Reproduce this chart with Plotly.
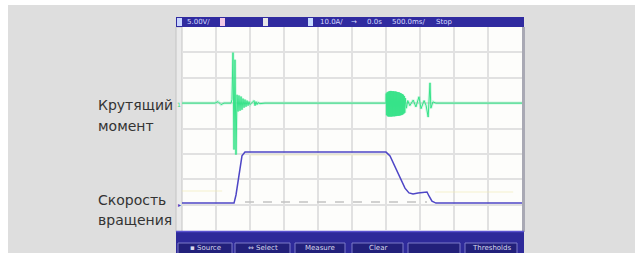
import plotly.graph_objects as go

W, H = 635, 253

# ---------------- data (time in s, value in screen divisions) ----------------
# torque (channel 1): pre-event, burst, after-burst
torque_pre_t = [-2.5, -2.015, -1.97, -1.926, -1.882, -1.779, -1.765, -1.75, -1.735, -1.721,
                -1.706, -1.691, -1.676, -1.662, -1.647, -1.632, -1.618, -1.603, -1.588, -1.574,
                -1.559, -1.544, -1.529, -1.515, -1.5, -1.471, -1.441, -1.426, -1.412, -1.397,
                -1.382, -1.353, -1.279]
torque_pre_v = [1.0, 1.0, 1.06, 0.94, 1.0, 1.0, 1.14, 2.99, -0.83, 2.71,
                -1.03, 1.33, 0.67, 1.30, 0.70, 1.26, 0.74, 1.18, 0.82, 1.14,
                0.86, 1.10, 0.90, 1.06, 0.94, 1.0, 1.10, 0.90, 1.06, 0.94,
                1.02, 0.98, 1.0]
torque_burst_t = [0.500, 0.504, 0.511, 0.518, 0.526, 0.533, 0.540, 0.548, 0.555, 0.563,
                  0.570, 0.577, 0.585, 0.592, 0.599, 0.607, 0.614, 0.621, 0.629, 0.636,
                  0.643, 0.651, 0.658, 0.665, 0.673, 0.680, 0.688, 0.695, 0.702, 0.710,
                  0.717, 0.724, 0.732, 0.739, 0.746, 0.754, 0.761, 0.768, 0.776, 0.783]
torque_burst_v = [1.0, 1.38, 0.52, 1.43, 0.48, 1.45, 0.47, 1.47, 0.47, 1.48,
                  0.47, 1.48, 0.47, 1.47, 0.48, 1.47, 0.48, 1.46, 0.48, 1.46,
                  0.49, 1.45, 0.49, 1.44, 0.50, 1.43, 0.50, 1.42, 0.51, 1.40,
                  0.52, 1.38, 0.53, 1.36, 0.55, 1.33, 0.58, 1.28, 0.62, 1.20]
torque_post_t = [0.80, 0.82, 0.85, 0.9, 0.94, 0.985, 1.015, 1.06, 1.09, 1.12, 1.147, 1.16, 1.19, 1.235, 2.5]
torque_post_v = [0.8, 1.1, 0.9, 1.12, 0.85, 1.25, 0.78, 1.1, 0.9, 0.45, 1.8, 0.8, 1.05, 1.0, 1.0]

# speed (channel 2)
speed_t = [-2.5, -1.735, -1.706, -1.676, -1.647, -1.618, -1.574, 0.5, 0.559, 0.632,
           0.706, 0.779, 0.838, 0.897, 0.971, 1.059, 1.103, 1.132, 1.176, 1.235, 2.5]
speed_v = [-2.94, -2.94, -2.62, -2.03, -1.44, -1.08, -0.93, -0.93, -1.08, -1.52,
           -1.95, -2.35, -2.54, -2.58, -2.54, -2.50, -2.50, -2.66, -2.86, -2.94, -2.94]

ref_t = [-1.574, 1.103]
ref_v = [-2.90, -2.90]

ghost_t = [-2.5, -1.91, None, -1.5, 0.53, None, 1.22, 2.37]
ghost_v = [-2.46, -2.46, None, -1.04, -1.04, None, -2.5, -2.5]

top_labels = ["5.00V/", "10.0A/", "→", "0.0s", "500.0ms/", "Stop"]
buttons = ["▪ Source", "⇔ Select", "Measure", "Clear", "", "Thresholds"]
labels = ["Крутящий", "момент", "Скорость", "вращения"]

torque_t = torque_pre_t + torque_burst_t + torque_post_t
torque_v = torque_pre_v + torque_burst_v + torque_post_v


def fx(p):
    return p / W


def fy(p):
    return 1 - p / H


fig = go.Figure()
fig.add_trace(go.Scatter(x=ghost_t, y=ghost_v, mode="lines",
                         line=dict(color="rgba(240,236,175,0.4)", width=1.5),
                         hoverinfo="skip", connectgaps=False))
fig.add_trace(go.Scatter(x=ref_t, y=ref_v, mode="lines",
                         line=dict(color="#c2c2c2", width=1.5, dash="dash"), hoverinfo="skip"))
fig.add_trace(go.Scatter(x=torque_t, y=torque_v, mode="lines",
                         line=dict(color="rgba(80,235,155,0.25)", width=3), hoverinfo="skip"))
fig.add_trace(go.Scatter(x=torque_t, y=torque_v, mode="lines",
                         line=dict(color="#36e389", width=1.0), hoverinfo="skip"))
fig.add_trace(go.Scatter(x=speed_t, y=speed_v, mode="lines",
                         line=dict(color="#4e46c6", width=1.5), hoverinfo="skip"))

shapes = []
# grey page background
shapes.append(dict(type="rect", xref="paper", yref="paper", x0=fx(8), x1=fx(635), y0=fy(253), y1=fy(5),
                   fillcolor="#dedede", line=dict(width=0), layer="below"))
# white screen
shapes.append(dict(type="rect", xref="paper", yref="paper", x0=fx(182), x1=fx(522), y0=fy(231), y1=fy(27),
                   fillcolor="#fdfdfb", line=dict(width=0), layer="below"))
# left strip of screen
shapes.append(dict(type="rect", xref="paper", yref="paper", x0=fx(176), x1=fx(182), y0=fy(232), y1=fy(27),
                   fillcolor="#ebebeb", line=dict(color="#c4c4c4", width=1), layer="below"))
# right border of screen
shapes.append(dict(type="rect", xref="paper", yref="paper", x0=fx(522), x1=fx(525), y0=fy(232), y1=fy(27),
                   fillcolor="#a9a9b4", line=dict(width=0), layer="above"))
# top bar
shapes.append(dict(type="rect", xref="paper", yref="paper", x0=fx(176), x1=fx(524), y0=fy(27), y1=fy(17),
                   fillcolor="#302ba0", line=dict(width=0), layer="above"))
# bottom bar
shapes.append(dict(type="rect", xref="paper", yref="paper", x0=fx(176), x1=fx(524), y0=fy(253), y1=fy(231),
                   fillcolor="#2e2a9a", line=dict(width=0), layer="above"))
shapes.append(dict(type="line", xref="paper", yref="paper", x0=fx(176), x1=fx(524), y0=fy(231.5), y1=fy(231.5),
                   line=dict(color="#5a52d0", width=1.5), layer="above"))
# channel boxes in top bar
for (a, b, c) in [(177, 182, "#c8d4ff"), (220, 225, "#f2c8e6"), (263, 268, "#e6e6e6"), (308, 313, "#c8dcff")]:
    shapes.append(dict(type="rect", xref="paper", yref="paper", x0=fx(a), x1=fx(b), y0=fy(26), y1=fy(18),
                       fillcolor=c, line=dict(width=0), layer="above"))
# buttons
btn_x = [(178, 232), (235, 290), (295, 345), (352, 403), (408, 460), (465, 517)]
for (a, b) in btn_x:
    shapes.append(dict(type="rect", xref="paper", yref="paper", x0=fx(a), x1=fx(b), y0=fy(254), y1=fy(243),
                       fillcolor="#22207a", line=dict(color="#7d7ac8", width=1), layer="above"))

annotations = []
top_pos = [198, 331, 354, 375, 409, 444]
for txt, p in zip(top_labels, top_pos):
    annotations.append(dict(x=fx(p), y=fy(22), xref="paper", yref="paper", text=txt, showarrow=False,
                            font=dict(size=7, color="#d6dcff", family="DejaVu Sans"),
                            xanchor="center", yanchor="middle"))
for txt, (a, b) in zip(buttons, btn_x):
    if txt:
        annotations.append(dict(x=fx((a + b) / 2), y=fy(248), xref="paper", yref="paper", text=txt,
                                showarrow=False, font=dict(size=7, color="#d8d8ec", family="DejaVu Sans"),
                                xanchor="center", yanchor="middle"))
for txt, yy in zip(labels, [105, 126, 200, 220]):
    annotations.append(dict(x=fx(96), y=fy(yy), xref="paper", yref="paper", text=txt, showarrow=False,
                            font=dict(size=14, color="#333333", family="DejaVu Sans"),
                            xanchor="left", yanchor="middle"))
# channel markers
annotations.append(dict(x=fx(179), y=fy(104), xref="paper", yref="paper", text="1", showarrow=False,
                        font=dict(size=6, color="#2fe07f", family="DejaVu Sans"), xanchor="center", yanchor="middle"))
annotations.append(dict(x=fx(179), y=fy(204), xref="paper", yref="paper", text="▸", showarrow=False,
                        font=dict(size=6, color="#4a42c0", family="DejaVu Sans"), xanchor="center", yanchor="middle"))

fig.update_layout(
    width=W, height=H, margin=dict(l=0, r=0, t=0, b=0),
    paper_bgcolor="white", plot_bgcolor="#fdfdfb",
    showlegend=False, shapes=shapes, annotations=annotations,
    xaxis=dict(domain=[fx(182), fx(522)], range=[-2.5, 2.5], tick0=-2.5, dtick=0.5,
               showgrid=True, gridcolor="#e1e1e1", gridwidth=1.5, zeroline=False,
               showticklabels=False, ticks="", fixedrange=True),
    yaxis=dict(domain=[fy(230), fy(27)], range=[-4, 4], dtick=1,
               showgrid=True, gridcolor="#e1e1e1", gridwidth=1.5, zeroline=False,
               showticklabels=False, ticks="", fixedrange=True),
)

fig.write_html("out.html", config={"displayModeBar": False},
               post_script="document.body.style.margin='0px';document.body.style.overflow='hidden';")
